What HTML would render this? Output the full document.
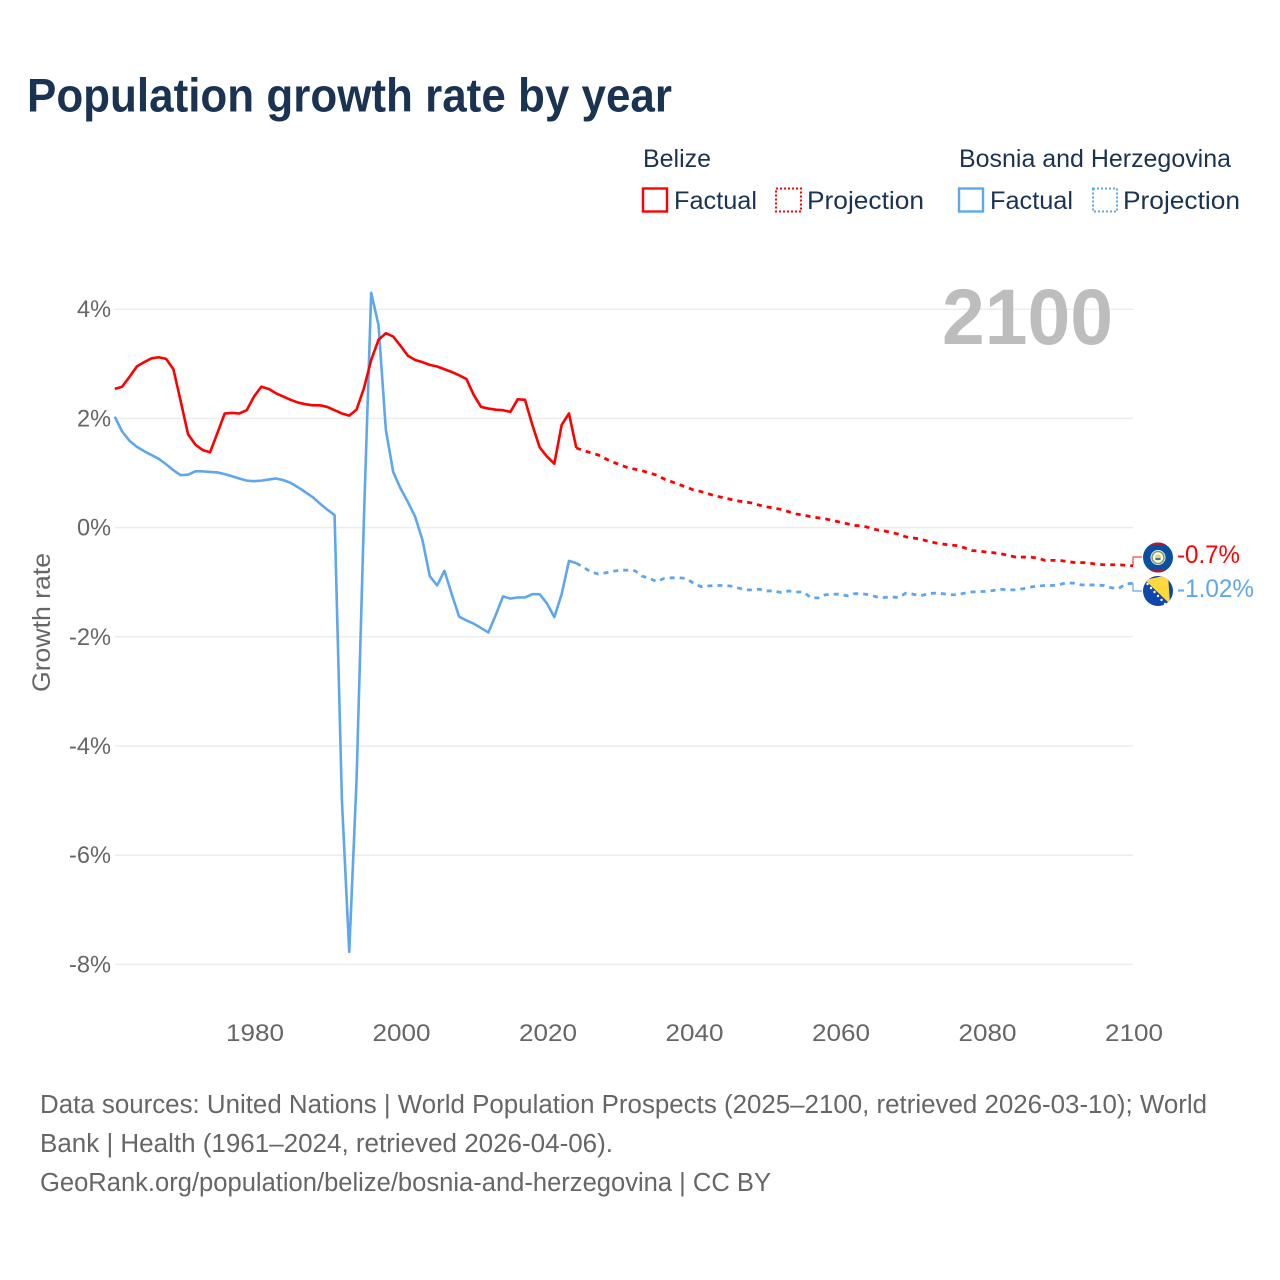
<!DOCTYPE html>
<html lang="en">
<head>
<meta charset="utf-8">
<title>Population growth rate by year</title>
<style>
html,body{margin:0;padding:0;background:#fff;}
svg{display:block;}
text{font-family:"Liberation Sans",sans-serif;}
</style>
</head>
<body>
<svg id="chart" xmlns="http://www.w3.org/2000/svg" width="1280" height="1280" viewBox="0 0 1280 1280">
  <rect x="0" y="0" width="1280" height="1280" fill="#fff"/>
  <text x="27" y="111.5" font-size="47" font-weight="700" fill="#1a3353" textLength="645" lengthAdjust="spacingAndGlyphs">Population growth rate by year</text>

  <g font-size="25" fill="#1a3353">
    <text x="643" y="167" textLength="68" lengthAdjust="spacingAndGlyphs">Belize</text>
    <text x="959" y="167" textLength="272" lengthAdjust="spacingAndGlyphs">Bosnia and Herzegovina</text>
    <g>
      <rect x="643" y="188.5" width="24" height="23" fill="none" stroke="#ff0000" stroke-width="2.4"/>
      <text x="674" y="209" textLength="83" lengthAdjust="spacingAndGlyphs">Factual</text>
    </g>
    <g>
      <rect x="776" y="188.5" width="25" height="23" fill="none" stroke="#ff0000" stroke-width="2" stroke-dasharray="2 2"/>
      <text x="807" y="209" textLength="117" lengthAdjust="spacingAndGlyphs">Projection</text>
    </g>
    <g>
      <rect x="959" y="188.5" width="24" height="23" fill="none" stroke="#5ea6ee" stroke-width="2.4"/>
      <text x="990" y="209" textLength="83" lengthAdjust="spacingAndGlyphs">Factual</text>
    </g>
    <g>
      <rect x="1093" y="188.5" width="24" height="23" fill="none" stroke="#5ea6ee" stroke-width="2" stroke-dasharray="2 2"/>
      <text x="1123" y="209" textLength="117" lengthAdjust="spacingAndGlyphs">Projection</text>
    </g>
  </g>

  <g id="grid"></g>
  <text x="942" y="344" font-size="79" font-weight="700" fill="#bdbdbd" textLength="171" lengthAdjust="spacingAndGlyphs">2100</text>
  <g id="yticks" font-size="24.5" fill="#666"></g>
  <g id="xticks" font-size="24.5" fill="#666"></g>
  <text transform="translate(50 692) rotate(-90)" font-size="25" fill="#666" textLength="139" lengthAdjust="spacingAndGlyphs">Growth rate</text>
  <g id="series"></g>

  <defs>
    <clipPath id="clip-belize"><circle cx="1158" cy="557.5" r="15"/></clipPath>
    <clipPath id="clip-bosnia"><circle cx="1158" cy="591" r="15"/></clipPath>
  </defs>
  <g clip-path="url(#clip-belize)">
    <rect x="1143" y="542" width="30" height="31" fill="#0b4ea2"/>
    <rect x="1143" y="542" width="30" height="3" fill="#a61c3c"/>
    <rect x="1143" y="570" width="30" height="3" fill="#a61c3c"/>
    <circle cx="1158" cy="557.5" r="7.5" fill="#fff"/>
    <circle cx="1158" cy="557.5" r="6" fill="none" stroke="#7da35a" stroke-width="1.6"/>
    <circle cx="1158" cy="557.5" r="3.2" fill="#e8d27a"/>
    <rect x="1155.5" y="558" width="5" height="2" fill="#4a6a8a"/>
  </g>
  <g clip-path="url(#clip-bosnia)">
    <rect x="1143" y="576" width="30" height="31" fill="#0f47af"/>
    <polygon points="1145,580 1168,575 1170,604" fill="#ffd83d"/>
    <circle cx="1147.5" cy="584" r="1.2" fill="#fff"/>
    <circle cx="1151" cy="588" r="1.2" fill="#fff"/>
    <circle cx="1154.5" cy="592" r="1.2" fill="#fff"/>
    <circle cx="1158" cy="596" r="1.2" fill="#fff"/>
    <circle cx="1161.5" cy="600" r="1.2" fill="#fff"/>
    <circle cx="1165" cy="604" r="1.2" fill="#fff"/>
  </g>
  <text x="1177" y="563" font-size="25" fill="#ff0000" textLength="63" lengthAdjust="spacingAndGlyphs">-0.7%</text>
  <text x="1177" y="597" font-size="25" fill="#5ea6ee" textLength="77" lengthAdjust="spacingAndGlyphs">-1.02%</text>

  <g font-size="25.5" fill="#666">
    <text x="40" y="1113" textLength="1167" lengthAdjust="spacingAndGlyphs">Data sources: United Nations | World Population Prospects (2025–2100, retrieved 2026-03-10); World</text>
    <text x="40" y="1152" textLength="573" lengthAdjust="spacingAndGlyphs">Bank | Health (1961–2024, retrieved 2026-04-06).</text>
    <text x="40" y="1191" textLength="731" lengthAdjust="spacingAndGlyphs">GeoRank.org/population/belize/bosnia-and-herzegovina | CC BY</text>
  </g>
</svg>
<script>
const factualStartYear = 1961;
const projectionStartYear = 2024;
const yTickValues = [4, 2, 0, -2, -4, -6, -8];
const yTickLabels = ['4%', '2%', '0%', '-2%', '-4%', '-6%', '-8%'];
const xTickYears = [1980, 2000, 2020, 2040, 2060, 2080, 2100];

const belizeFactual = [
  2.54,2.58,2.76,2.95,3.03,3.10,3.12,3.09,2.90,2.31,
  1.71,1.52,1.42,1.38,1.73,2.09,2.10,2.09,2.15,2.40,
  2.58,2.54,2.46,2.40,2.34,2.29,2.26,2.24,2.24,2.21,
  2.15,2.09,2.05,2.16,2.55,3.07,3.44,3.56,3.50,3.33,
  3.15,3.07,3.03,2.98,2.95,2.90,2.85,2.79,2.72,2.43,
  2.21,2.18,2.16,2.15,2.12,2.35,2.34,1.88,1.47,1.30,
  1.17,1.88,2.09,1.46
];
const belizeProjection = [
  1.46,1.41,1.37,1.33,1.26,1.20,1.15,1.10,1.07,1.04,1.00,0.96,
  0.89,0.84,0.79,0.74,0.69,0.66,0.62,0.58,0.55,0.52,0.49,0.47,0.45,0.41,
  0.38,0.36,0.33,0.29,0.25,0.23,0.20,0.18,0.16,0.13,0.10,
  0.07,0.04,0.03,0.00,-0.04,-0.06,-0.09,-0.12,-0.17,-0.19,
  -0.21,-0.25,-0.28,-0.30,-0.32,-0.33,-0.37,-0.42,-0.43,-0.45,
  -0.46,-0.48,-0.51,-0.54,-0.54,-0.54,-0.56,-0.60,-0.60,-0.60,
  -0.62,-0.64,-0.64,-0.65,-0.67,-0.68,-0.68,-0.68,-0.69,-0.70
];
const bosniaFactual = [
  2.03,1.76,1.59,1.48,1.40,1.33,1.26,1.16,1.05,0.96,
  0.97,1.03,1.03,1.02,1.01,0.98,0.94,0.90,0.86,0.85,
  0.86,0.88,0.90,0.87,0.82,0.74,0.65,0.56,0.44,0.33,
  0.23,-4.99,-7.77,-4.62,0.15,4.30,3.71,1.79,1.02,0.72,
  0.47,0.20,-0.23,-0.89,-1.06,-0.79,-1.22,-1.63,-1.70,-1.76,
  -1.84,-1.92,-1.60,-1.26,-1.30,-1.28,-1.28,-1.22,-1.22,-1.39,
  -1.64,-1.22,-0.61,-0.65
];
const bosniaProjection = [
  -0.65,-0.73,-0.81,-0.85,-0.83,-0.80,-0.78,-0.78,-0.79,-0.89,-0.93,-0.99,
  -0.93,-0.92,-0.92,-0.93,-1.02,-1.08,-1.07,-1.06,-1.06,-1.07,-1.10,-1.14,-1.14,-1.13,
  -1.16,-1.16,-1.19,-1.16,-1.18,-1.18,-1.28,-1.29,-1.23,-1.22,-1.22,
  -1.25,-1.21,-1.21,-1.23,-1.27,-1.28,-1.27,-1.28,-1.20,-1.22,
  -1.25,-1.21,-1.20,-1.21,-1.23,-1.23,-1.20,-1.18,-1.17,-1.17,
  -1.15,-1.13,-1.14,-1.14,-1.12,-1.09,-1.07,-1.06,-1.06,-1.04,
  -1.01,-1.02,-1.05,-1.05,-1.05,-1.06,-1.10,-1.12,-1.03,-1.02
];

const SVG_NS = 'http://www.w3.org/2000/svg';
function xScale(year) { return 254 + (year - 1980) * 7.325; }
function yScale(value) { return 527.6 - value * 54.6; }
function linePath(values, startYear) {
  return values.map(function (v, i) {
    return (i ? 'L' : 'M') + xScale(startYear + i).toFixed(2) + ' ' + yScale(v).toFixed(2);
  }).join(' ');
}
function addPath(parent, d, color, width, dash) {
  const p = document.createElementNS(SVG_NS, 'path');
  p.setAttribute('d', d);
  p.setAttribute('fill', 'none');
  p.setAttribute('stroke', color);
  p.setAttribute('stroke-width', width);
  p.setAttribute('stroke-linejoin', 'round');
  if (dash) p.setAttribute('stroke-dasharray', dash);
  parent.appendChild(p);
  return p;
}

const gridGroup = document.getElementById('grid');
const yTickGroup = document.getElementById('yticks');
yTickValues.forEach(function (v, i) {
  const line = document.createElementNS(SVG_NS, 'line');
  
  
  line.setAttribute('x1', xScale(1961));
  line.setAttribute('x2', xScale(2100));
  line.setAttribute('y1', yScale(v));
  line.setAttribute('y2', yScale(v));
  line.setAttribute('stroke', '#ececec');
  line.setAttribute('stroke-width', '1.5');
  gridGroup.appendChild(line);
  const label = document.createElementNS(SVG_NS, 'text');
  
  
  label.setAttribute('x', 111);
  label.setAttribute('y', yScale(v) + 8);
  label.setAttribute('text-anchor', 'end');
  label.setAttribute('textLength', yTickLabels[i].length === 2 ? 34 : 42);
  label.setAttribute('lengthAdjust', 'spacingAndGlyphs');
  label.textContent = yTickLabels[i];
  yTickGroup.appendChild(label);
});

const xTickGroup = document.getElementById('xticks');
xTickYears.forEach(function (year) {
  const label = document.createElementNS(SVG_NS, 'text');
  
  
  label.setAttribute('x', xScale(year) + 1);
  label.setAttribute('y', 1041);
  label.setAttribute('text-anchor', 'middle');
  label.setAttribute('textLength', 58);
  label.setAttribute('lengthAdjust', 'spacingAndGlyphs');
  label.textContent = String(year);
  xTickGroup.appendChild(label);
});

const seriesGroup = document.getElementById('series');
const endX = xScale(2100);

const bosniaFactualLine = addPath(seriesGroup, linePath(bosniaFactual, factualStartYear), '#5ea6ee', 2.6);


const bosniaProjectionLine = addPath(seriesGroup, linePath(bosniaProjection, projectionStartYear), '#5ea6ee', 2.8, '5 5');


const belizeFactualLine = addPath(seriesGroup, linePath(belizeFactual, factualStartYear), '#ff0000', 2.6);


const belizeProjectionLine = addPath(seriesGroup, linePath(belizeProjection, projectionStartYear), '#ff0000', 2.8, '5 5');



const belizeEndY = yScale(belizeProjection[belizeProjection.length - 1]);
const bosniaEndY = yScale(bosniaProjection[bosniaProjection.length - 1]);
const belizeConnector = addPath(seriesGroup, 'M' + endX + ' ' + belizeEndY + ' V557 H1142', '#ff0000', 1.2);


belizeConnector.setAttribute('stroke-opacity', '0.75');
const bosniaConnector = addPath(seriesGroup, 'M' + endX + ' ' + bosniaEndY + ' V591 H1142', '#5ea6ee', 1.2);


</script>
</body>
</html>
